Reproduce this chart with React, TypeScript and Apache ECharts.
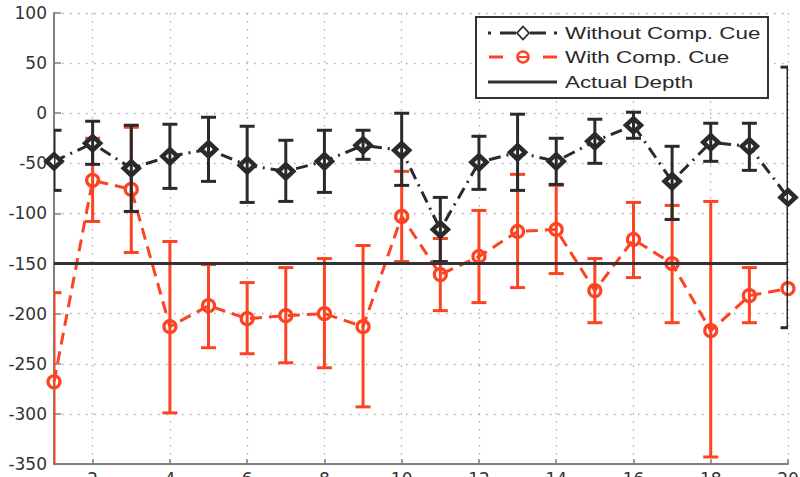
import React, { useEffect, useRef } from 'react';
import * as echarts from 'echarts';

const runs = [1, 2, 3, 4, 5, 6, 7, 8, 9, 10, 11, 12, 13, 14, 15, 16, 17, 18, 19, 20];

const withoutMean = [-48, -30, -55, -43, -36, -52, -58, -48, -32, -37, -116, -49, -39, -48, -28, -12, -68, -29, -33, -84];
const withoutHigh = [-17, -8, -12, -11, -4, -13, -27, -17, -17, 0, -84, -23, -1, -25, -6, 1, -33, -10, -10, 46];
const withoutLow = [-77, -51, -98, -75, -68, -89, -88, -79, -46, -72, -148, -76, -77, -71, -50, -25, -106, -48, -57, -214];

const withMean = [-268, -67, -76, -213, -192, -205, -202, -200, -213, -103, -161, -143, -118, -116, -177, -126, -150, -217, -182, -175];
const withHigh: (number | null)[] = [-179, -25, -14, -128, -151, -169, -154, -145, -132, -58, -125, -97, -61, -72, -145, -89, -92, -88, -154, null];
const withLow: (number | null)[] = [-357, -108, -139, -299, -234, -240, -249, -254, -293, -148, -197, -189, -174, -160, -209, -164, -209, -343, -209, null];

const actualDepth = -150;
const xTicks = [2, 4, 6, 8, 10, 12, 14, 16, 18, 20];
const legendNames = ['Without Comp. Cue', 'With Comp. Cue', 'Actual Depth'];

const BLACK = '#2a2a2a';
const RED = '#fc4422';

function errorBars(name: string, lows: (number | null)[], highs: (number | null)[], color: string, z: number) {
  const data: number[][] = [];
  runs.forEach((r, i) => {
    const lo = lows[i];
    const hi = highs[i];
    if (lo != null && hi != null) data.push([r, lo, hi]);
  });
  return {
    type: 'custom',
    name: name + ' err',
    z,
    clip: true,
    silent: true,
    data,
    encode: { x: 0, y: [1, 2] },
    renderItem: (params: any, api: any) => {
      const x = api.value(0);
      const p1 = api.coord([x, api.value(2)]);
      const p2 = api.coord([x, api.value(1)]);
      const hw = 7.5;
      const style = { stroke: color, lineWidth: 3 };
      return {
        type: 'group',
        children: [
          { type: 'line', shape: { x1: p1[0], y1: p1[1], x2: p2[0], y2: p2[1] }, style },
          { type: 'line', shape: { x1: p1[0] - hw, y1: p1[1], x2: p1[0] + hw, y2: p1[1] }, style },
          { type: 'line', shape: { x1: p2[0] - hw, y1: p2[1], x2: p2[0] + hw, y2: p2[1] }, style },
        ],
      };
    },
  };
}

export default function App() {
  const ref = useRef<HTMLDivElement>(null);
  useEffect(() => {
    if (!ref.current) return;
    const chart = echarts.init(ref.current, null, { renderer: 'svg' });
    const axisFont = { fontFamily: 'DejaVu Sans', fontSize: 17, color: '#333' };
    const legendFont = '16px "Liberation Sans"';
    const lmid = 523, tx = 565;
    const ys = [33, 57, 82];
    const seg = (x1: number, x2: number, y: number, stroke: string, w = 3) => ({
      type: 'line',
      z: 101,
      shape: { x1, y1: y, x2, y2: y },
      style: { stroke, lineWidth: w },
    });
    chart.setOption({
      animation: false,
      backgroundColor: '#fff',
      grid: { left: 54, right: 12, top: 13, bottom: 13, outerBoundsMode: 'none', containLabel: false },
      xAxis: {
        type: 'value',
        min: 1,
        max: 20,
        axisLine: { show: true, onZero: false, lineStyle: { color: '#808080', width: 2 } },
        axisTick: { show: true, inside: true, length: 5, customValues: xTicks, lineStyle: { color: '#808080', width: 1.5 } },
        axisLabel: { customValues: xTicks, margin: 6, ...axisFont },
        splitLine: { show: true, lineStyle: { color: '#aaa', width: 1.3, type: [1.5, 6.5] } },
      },
      yAxis: {
        type: 'value',
        min: -350,
        max: 100,
        interval: 50,
        axisLine: { show: true, onZero: false, lineStyle: { color: '#808080', width: 2 } },
        axisTick: { show: true, inside: true, length: 7, lineStyle: { color: '#808080', width: 1.5 } },
        axisLabel: { margin: 7, ...axisFont },
        splitLine: { show: true, lineStyle: { color: '#aaa', width: 1.3, type: [1.5, 6.5] } },
      },
      series: [
        {
          type: 'line',
          name: legendNames[1],
          z: 2,
          data: runs.map((r, i) => [r, withMean[i]]),
          symbol: 'circle',
          symbolSize: 12,
          itemStyle: { color: 'rgba(255,255,255,0)', borderColor: RED, borderWidth: 3.2 },
          lineStyle: { color: RED, width: 3, type: [12, 7] },
        },
        errorBars(legendNames[1], withLow, withHigh, RED, 3),
        {
          type: 'line',
          name: legendNames[0],
          z: 4,
          data: runs.map((r, i) => [r, withoutMean[i]]),
          symbol: 'diamond',
          symbolSize: [15, 14],
          itemStyle: { color: '#fff', borderColor: BLACK, borderWidth: 4.5 },
          lineStyle: { color: BLACK, width: 3, type: [12, 6, 2, 6] },
        },
        errorBars(legendNames[0], withoutLow, withoutHigh, BLACK, 5),
        {
          type: 'line',
          name: legendNames[2],
          z: 6,
          data: [[runs[0], actualDepth], [runs[runs.length - 1], actualDepth]],
          symbol: 'none',
          lineStyle: { color: '#333', width: 3 },
        },
      ],
      graphic: [
        {
          type: 'rect',
          z: 100,
          shape: { x: 476, y: 17, width: 292, height: 81 },
          style: { fill: '#fff', stroke: '#333', lineWidth: 2 },
        },
        seg(488, 491, ys[0], BLACK),
        seg(500, 516, ys[0], BLACK),
        seg(530, 546, ys[0], BLACK),
        seg(554, 557, ys[0], BLACK),
        {
          type: 'polygon',
          z: 102,
          shape: { points: [[lmid, ys[0] - 6.5], [lmid + 6, ys[0]], [lmid, ys[0] + 6.5], [lmid - 6, ys[0]]] },
          style: { fill: '#fff', stroke: BLACK, lineWidth: 1.8 },
        },
        seg(489, 503, ys[1], RED),
        seg(543, 557, ys[1], RED),
        {
          type: 'circle',
          z: 102,
          shape: { cx: lmid, cy: ys[1], r: 5.5 },
          style: { fill: 'none', stroke: RED, lineWidth: 2.5 },
        },
        seg(lmid - 5, lmid + 5, ys[1], RED, 2),
        seg(488, 557, ys[2], '#333'),
        ...legendNames.map((n, i) => ({
          type: 'text',
          z: 102,
          x: tx,
          y: ys[i],
          scaleX: 1.4,
          style: { text: n, font: legendFont, fill: '#2a2a2a', align: 'left', verticalAlign: 'middle' },
        })),
      ],
    });
    return () => chart.dispose();
  }, []);
  return (
    <div
      ref={ref}
      style={{ position: 'fixed', left: 0, top: 0, width: 800, height: 477, background: '#fff' }}
    />
  );
}
